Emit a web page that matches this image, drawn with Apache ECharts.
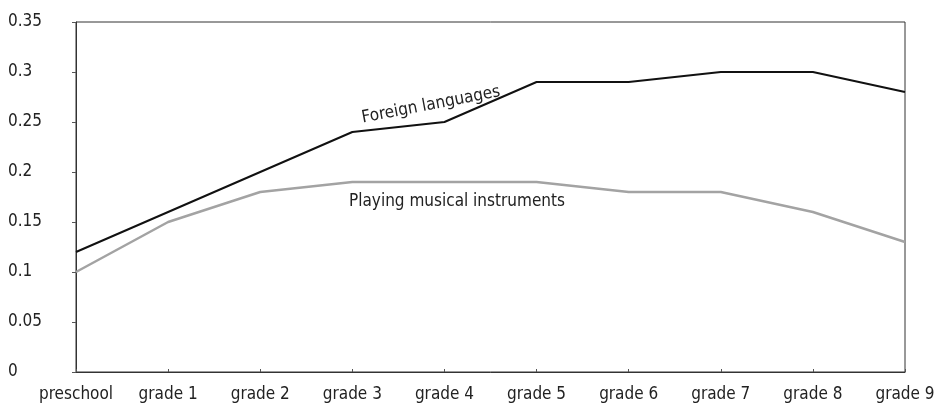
<!DOCTYPE html>
<html><head><meta charset="utf-8">
<script src="https://cdn.jsdelivr.net/npm/echarts@6/dist/echarts.min.js"></script>
<style>html,body{margin:0;padding:0;background:#fff}#c{width:945px;height:410px}</style>
</head><body><div id="c"></div>
<script>
const categories = ['preschool','grade 1','grade 2','grade 3','grade 4','grade 5','grade 6','grade 7','grade 8','grade 9'];
const foreignLanguages = [0.12,0.16,0.20,0.24,0.25,0.29,0.29,0.30,0.30,0.28];
const musicalInstruments = [0.10,0.15,0.18,0.19,0.19,0.19,0.18,0.18,0.16,0.13];
const FONT = '"Liberation Sans Narrow","DejaVu Sans Condensed","Roboto Condensed",sans-serif';
const chart = echarts.init(document.getElementById('c'));
chart.setOption({
  animation:false,
  grid:{left:76,right:40,top:22,bottom:38,show:true,borderColor:'#333',borderWidth:1,backgroundColor:'transparent'},
  xAxis:{type:'category',data:categories,boundaryGap:false,
    axisLine:{lineStyle:{color:'#333',width:1}},
    axisTick:{show:true,inside:true,length:3,interval:0,lineStyle:{color:'#555'}},
    axisLabel:{color:'#222',fontFamily:FONT,fontSize:17,margin:14,interval:0,hideOverlap:false},
    splitLine:{show:false}},
  yAxis:{type:'value',min:0,max:0.35,interval:0.05,
    axisLine:{show:true,lineStyle:{color:'#333',width:1}},
    axisTick:{show:true,length:4,lineStyle:{color:'#555'}},
    axisLabel:{color:'#222',fontFamily:FONT,fontSize:17,margin:68,align:'left',
      formatter:v=>String(+v.toFixed(2))},
    splitLine:{show:false}},
  series:[
    {name:'Foreign languages',type:'line',data:foreignLanguages,symbol:'none',lineStyle:{color:'#111',width:2},z:3},
    {name:'Playing musical instruments',type:'line',data:musicalInstruments,symbol:'none',lineStyle:{color:'#a3a3a3',width:2.5},z:2}
  ],
  graphic:[
    {type:'text',x:431,y:105,rotation:0.19,style:{text:'Foreign languages',font:'17px '+FONT,fill:'#222',align:'center',verticalAlign:'middle'}},
    {type:'text',x:457,y:202,style:{text:'Playing musical instruments',font:'17px '+FONT,fill:'#222',align:'center',verticalAlign:'middle'}}
  ]
});
</script></body></html>
